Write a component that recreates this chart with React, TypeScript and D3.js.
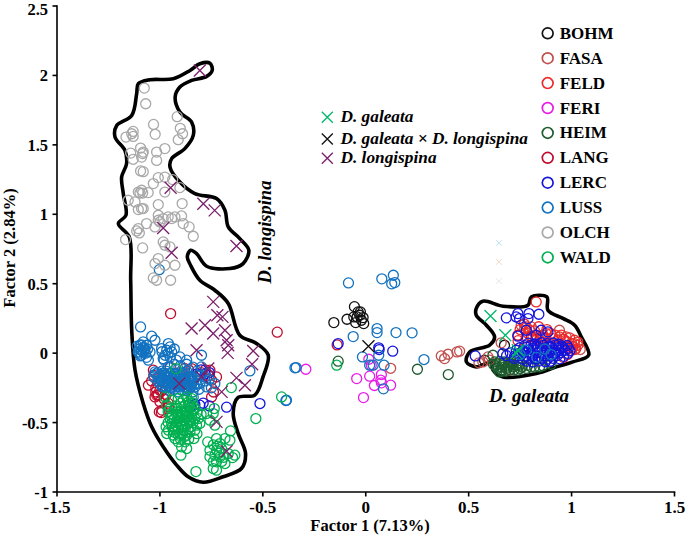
import React from "react";
import * as d3 from "d3";

type P = [number, number];

const BOHM: P[] = [[-0.055,0.335],[-0.155,0.22],[-0.091,0.244],[-0.058,0.261],[-0.037,0.297],[-0.026,0.297],[-0.029,0.273],[-0.042,0.261],[-0.013,0.256],[-0.049,0.22],[-0.01,0.213],[-0.021,0.237],[0.577,-0.051],[0.674,0.057]];
const FASA: P[] = [[0.367,-0.02],[0.4,-0.008],[0.383,-0.039],[0.443,0.009],[0.121,-0.109],[0.456,0.014],[0.569,-0.063],[0.594,-0.027],[0.658,0.074],[0.941,0.165],[0.974,0.117],[1.014,0.069],[1.042,0.026],[1.014,0.026],[0.772,0.177],[0.755,0.201],[0.804,0.189],[0.861,0.117],[0.699,-0.123],[0.6,-0.05],[0.55,-0.07]];
const FELD: P[] = [[0.828,0.369],[0.78,0.189],[0.796,0.165],[0.941,0.117],[0.909,0.105],[0.877,0.141],[0.861,0.081],[0.982,0.045],[1.006,0.045],[0.812,0.117],[1.014,0.093],[0.941,0.057],[0.893,0.069],[1.03,0.057],[0.844,0.093],[0.974,0.081],[-1.016,-0.303],[0.75,0.17],[0.77,0.21],[0.79,0.14],[0.82,0.16],[0.84,0.19],[0.86,0.13],[0.88,0.17],[0.9,0.14],[0.92,0.13],[0.95,0.13],[0.97,0.09],[0.99,0.11],[1.0,0.07],[1.02,0.03],[1.03,0.08],[0.96,0.1],[0.93,0.09],[0.87,0.11],[0.83,0.1],[0.78,0.11],[0.74,0.09],[1.0,0.02],[0.98,-0.01],[0.96,-0.03]];
const FERI: P[] = [[-0.291,-0.116],[0.015,-0.044],[0.027,-0.087],[-0.044,-0.183],[0.019,-0.166],[0.076,-0.154],[0.073,-0.195],[0.076,-0.214],[0.042,-0.233],[0.121,-0.231],[-0.011,-0.32]];
const HEIM: P[] = [[0.618,-0.015],[0.65,-0.075],[0.642,-0.099],[0.666,-0.087],[0.658,-0.123],[0.691,-0.087],[0.683,-0.111],[0.707,-0.063],[0.715,-0.099],[0.739,-0.123],[0.747,-0.087],[0.788,-0.087],[0.804,-0.099],[0.844,-0.099],[0.893,-0.063],[0.65,-0.135],[0.626,-0.063],[0.674,-0.063],[-0.134,-0.058],[0.251,-0.116],[0.401,-0.154],[0.63,-0.09],[0.64,-0.11],[0.66,-0.1],[0.67,-0.07],[0.68,-0.13],[0.69,-0.1],[0.7,-0.12],[0.71,-0.08],[0.72,-0.12],[0.73,-0.09],[0.75,-0.11],[0.76,-0.1],[0.78,-0.11],[0.82,-0.1],[0.86,-0.09],[0.65,-0.06],[0.62,-0.08],[0.66,-0.13],[0.9,-0.08],[0.7,-0.07],[0.74,-0.07]];
const LANG: P[] = [[-0.948,0.285],[-0.43,0.151],[-1.056,-0.231],[-1.024,-0.315],[-0.993,-0.428],[-1.003,-0.423],[-1.032,-0.123],[-1.008,-0.303],[-0.749,-0.315],[-0.725,-0.171],[-0.757,-0.123],[-0.846,-0.111],[-0.959,-0.387],[-1.0,-0.267],[-0.749,-0.195],[-0.139,0.059],[0.804,0.117],[0.739,0.129],[-1.03,-0.16],[-1.04,-0.2],[-1.02,-0.25],[-1.01,-0.3],[-1.0,-0.35],[-0.98,-0.33],[-0.97,-0.3],[-0.99,-0.41],[-0.96,-0.36],[-1.02,-0.28],[-0.99,-0.27],[-0.8,-0.14],[-0.78,-0.12],[-0.76,-0.16],[-0.74,-0.28],[-0.86,-0.12],[-0.88,-0.11],[-0.95,-0.1]];
const LERC: P[] = [[0.063,0.038],[0.065,0.026],[0.131,0.014],[-0.134,0.069],[-0.676,-0.389],[-0.514,-0.363],[-0.806,-0.375],[-0.806,-0.159],[-0.8,-0.12],[-0.78,-0.15],[-0.76,-0.14],[-0.82,-0.15],[-0.79,-0.36],[-0.76,-0.38],[-0.83,-0.37],[-0.85,-0.39],[0.532,-0.02],[0.683,0.254],[0.739,0.285],[0.731,0.261],[0.747,0.249],[0.793,0.285],[0.788,0.249],[0.841,0.28],[0.78,0.165],[0.852,0.165],[0.739,0.122],[0.828,0.129],[0.666,-0.003],[0.885,0.153],
[0.79,0.072],[0.822,0.066],[0.853,0.075],[0.881,0.068],[0.912,0.073],[0.938,0.064],
[0.772,0.054],[0.803,0.058],[0.831,0.049],[0.862,0.056],[0.889,0.051],[0.923,0.058],[0.951,0.05],[0.978,0.055],
[0.748,0.039],[0.783,0.043],[0.812,0.035],[0.838,0.041],[0.871,0.036],[0.902,0.043],[0.932,0.038],[0.958,0.042],[0.985,0.036],
[0.731,0.021],[0.762,0.017],[0.791,0.024],[0.823,0.018],[0.851,0.022],[0.879,0.016],[0.913,0.023],[0.941,0.018],[0.969,0.021],[0.992,0.017],
[0.702,0.002],[0.742,-0.003],[0.768,0.004],[0.802,-0.002],[0.834,0.003],[0.861,-0.004],[0.893,0.002],[0.921,-0.003],[0.948,0.004],[0.981,-0.002],
[0.684,-0.018],[0.723,-0.022],[0.753,-0.017],[0.781,-0.023],[0.813,-0.018],[0.842,-0.024],[0.873,-0.018],[0.904,-0.021],[0.931,-0.017],[0.962,-0.023],
[0.722,-0.038],[0.761,-0.043],[0.792,-0.037],[0.821,-0.042],[0.853,-0.038],[0.882,-0.043],[0.909,-0.037],[0.943,-0.041],
[0.783,-0.058],[0.812,-0.063],[0.841,-0.057],[0.872,-0.062],[0.898,-0.058]];
const LUSS: P[] = [[-1.094,0.189],[-1.04,0.122],[-1.024,0.093],[-1.081,0.081],[-1.097,0.057],[-1.105,0.009],[-1.073,0.033],[-1.048,0.009],[-1.089,-0.015],[-1.056,-0.051],[-0.959,0.069],[-0.992,0.033],[-0.943,0.009],[-0.975,-0.015],[-0.984,-0.039],[-0.903,-0.027],[-0.87,-0.051],[-0.798,-0.015],[-1.024,-0.135],[-1.0,-0.159],[-0.967,-0.171],[-0.992,-0.195],[-0.951,-0.195],[-0.984,-0.243],[-0.943,-0.243],[-0.903,-0.159],[-0.886,-0.195],[-0.854,-0.183],[-0.862,-0.231],[-0.83,-0.243],[-0.895,-0.267],[-0.838,-0.315],[-0.798,-0.099],[-0.781,-0.171],[-0.806,-0.219],[-0.773,-0.243],[-0.733,-0.219],[-0.563,-0.128],[-0.344,-0.106],[-0.385,-0.339],[-1.008,-0.171],[-0.975,-0.219],[-0.927,-0.183],[-0.911,-0.219],[-0.878,-0.243],[-0.846,-0.219],[-0.87,-0.267],[-1.0,-0.219],[-0.959,-0.147],[-0.927,-0.147],[-1.064,0.057],[-1.081,0.009],[-0.951,0.045],[-0.967,0.021],[-0.084,0.506],[0.078,0.535],[0.134,0.561],[0.126,0.499],[0.141,0.508],[0.055,0.177],[0.055,0.148],[0.147,0.148],[0.225,0.146],[-0.061,0.119],[-0.016,-0.027],[0.283,-0.046],[-0.338,-0.104],[0.019,-0.087],[0.036,-0.087],[0.089,-0.087],[0.086,-0.257],[-0.388,-0.341],[0.063,-0.015],[-1.003,0.601],
[-1.11,0.05],[-1.1,0.03],[-1.09,0.06],[-1.08,0.04],[-1.1,0.0],[-1.09,0.02],[-1.07,0.0],[-1.06,0.03],[-1.075,0.02],[-1.095,-0.02],[-1.065,-0.03],[-1.02,-0.15],[-1.03,-0.17],[-1.01,-0.14],[-1.0,-0.19],[-0.99,-0.13],[-0.98,-0.16],[-0.97,-0.13],[-0.96,-0.17],[-0.95,-0.15],[-0.98,-0.21],[-0.96,-0.22],[-0.94,-0.18],[-0.93,-0.21],[-0.92,-0.17],[-0.91,-0.24],[-0.9,-0.2],[-0.89,-0.22],[-0.88,-0.18],[-0.87,-0.21],[-0.86,-0.17],[-0.85,-0.24],[-0.84,-0.2],[-0.83,-0.18],[-0.82,-0.22],[-1.01,-0.2],[-0.99,-0.24],[-0.97,-0.25],[-0.95,-0.27],[-0.93,-0.26],[-0.88,-0.27],[-0.86,-0.26],[-0.84,-0.28],[-0.81,-0.26],[-0.91,-0.28],[-0.93,-0.15],[-0.9,-0.14],[-0.87,-0.13],[-0.96,-0.1],[-0.93,-0.08],[-0.9,-0.09],[-0.87,-0.08],[-0.98,-0.05],[-0.95,-0.03],[-0.92,-0.05],[-0.99,0.01],[-0.96,0.0],[-0.93,0.03],[-0.84,-0.1],[-0.82,-0.13],[-0.8,-0.16],[-0.78,-0.2],[-0.76,-0.19],[-0.75,-0.25],[0.75,-0.01],[0.78,0.02],[0.83,-0.03],[0.87,0.03],[0.9,-0.01],
[-0.985,-0.18],[-0.972,-0.155],[-0.965,-0.2],[-0.955,-0.235],[-0.945,-0.165],[-0.935,-0.19],[-0.925,-0.225],[-0.918,-0.15],[-0.905,-0.185],[-0.895,-0.235],[-0.885,-0.16],[-0.875,-0.19],[-0.865,-0.245],[-0.855,-0.205],[-0.845,-0.17],[-0.835,-0.23],[-0.97,-0.24],[-0.94,-0.215],[-0.91,-0.205],[-0.88,-0.225],[-0.85,-0.19],[-0.98,-0.145],[-0.89,-0.145],[-0.95,-0.25],[-0.92,-0.24]];
const OLCH: P[] = [[-1.076,1.909],[-1.069,1.796],[-0.916,1.703],[-1.031,1.647],[-1.023,1.576],[-0.901,1.619],[-0.89,1.58],[-0.911,1.537],[-1.13,1.597],[-1.137,1.58],[-1.165,1.556],[-1.13,1.561],[-0.976,1.473],[-1.016,1.448],[-1.016,1.388],[-1.094,1.477],[-1.142,1.441],[-1.13,1.396],[-1.084,1.437],[-1.089,1.412],[-1.081,1.448],[-1.094,1.312],[-1.081,1.307],[-0.976,1.268],[-1.008,1.264],[-1.032,1.221],[-0.938,1.25],[-0.976,1.16],[-0.903,1.192],[-1.089,1.173],[-1.097,1.153],[-1.084,1.153],[-1.105,1.16],[-1.057,1.156],[-1.154,1.101],[-1.121,1.089],[-1.089,1.041],[-1.105,1.034],[-1.008,1.07],[-0.892,1.077],[-1.081,1.041],[-1.008,0.993],[-0.895,0.988],[-0.96,0.981],[-0.984,0.969],[-1.008,0.957],[-0.943,0.969],[-0.927,0.981],[-1.065,0.933],[-1.0,0.945],[-1.105,0.897],[-1.1,0.866],[-1.113,0.88],[-1.024,0.909],[-0.887,0.933],[-0.858,0.909],[-0.838,0.842],[-1.167,0.818],[-1.084,0.758],[-0.984,0.801],[-0.976,0.777],[-0.951,0.765],[-1.008,0.681],[-0.927,0.633],[-0.976,0.633],[-1.024,0.645],[-1.032,0.542],[-0.948,0.525],[-1.016,0.525]];
const WALD: P[] = [[-0.141,-0.087],[-0.922,-0.111],[-0.653,-0.248],[-0.409,-0.315],[-0.534,-0.471],[-0.657,-0.56],[-0.736,-0.399],[-0.741,-0.435],[-0.773,-0.435],[-0.757,-0.483],[-0.733,-0.519],[-0.825,-0.853],[-0.898,-0.735],[-0.768,-0.639],[-0.725,-0.615],[-0.684,-0.615],[-0.66,-0.627],[-0.708,-0.651],[-0.757,-0.699],[-0.725,-0.699],[-0.733,-0.735],[-0.757,-0.747],[-0.708,-0.747],[-0.668,-0.723],[-0.636,-0.735],[-0.684,-0.795],[-0.741,-0.831],[-0.725,-0.843],[-0.647,-0.752],[-0.725,-0.783],[-0.967,-0.375],[-0.943,-0.339],[-0.911,-0.327],[-0.87,-0.315],[-0.846,-0.327],[-0.927,-0.399],[-0.895,-0.387],[-0.862,-0.375],[-0.83,-0.399],[-0.943,-0.459],[-0.911,-0.447],[-0.878,-0.435],[-0.846,-0.447],[-0.814,-0.471],[-0.943,-0.507],[-0.919,-0.495],[-0.886,-0.483],[-0.854,-0.495],[-0.822,-0.519],[-0.959,-0.555],[-0.927,-0.543],[-0.895,-0.531],[-0.862,-0.543],[-0.83,-0.555],[-0.967,-0.579],[-0.935,-0.591],[-0.903,-0.579],[-0.87,-0.591],[-0.911,-0.639],[-0.878,-0.639],[-0.835,-0.615],[-0.895,-0.675],[-0.87,-0.687],[-0.927,-0.615],[-0.903,-0.507],[-0.87,-0.423],[-0.919,-0.423],[-0.846,-0.387],[-0.806,-0.507],[-0.951,-0.399],[-0.886,-0.339],[-0.854,-0.363],[-0.903,-0.459],[-0.862,-0.483],[-0.935,-0.555],[-0.886,-0.555],[-0.854,-0.567],[-0.975,-0.315],
[-0.96,-0.42],[-0.94,-0.44],[-0.93,-0.47],[-0.92,-0.44],[-0.91,-0.47],[-0.9,-0.42],[-0.89,-0.45],[-0.88,-0.48],[-0.87,-0.46],[-0.86,-0.45],[-0.85,-0.48],[-0.84,-0.42],[-0.96,-0.5],[-0.94,-0.53],[-0.92,-0.52],[-0.91,-0.54],[-0.89,-0.51],[-0.88,-0.53],[-0.87,-0.51],[-0.85,-0.53],[-0.84,-0.5],[-0.83,-0.47],[-0.93,-0.57],[-0.91,-0.59],[-0.89,-0.58],[-0.88,-0.6],[-0.9,-0.62],[-0.86,-0.62],[-0.92,-0.38],[-0.9,-0.36],[-0.88,-0.38],[-0.86,-0.35],[-0.84,-0.36],[-0.82,-0.43],[-0.8,-0.44],[-0.95,-0.47],[-0.97,-0.53],[-0.82,-0.58],[-0.89,-0.43],[-0.87,-0.41],[-0.72,-0.67],[-0.7,-0.69],[-0.74,-0.66],[-0.71,-0.72],[-0.69,-0.75],[-0.74,-0.78],[-0.7,-0.78]];

const populations = ["BOHM","FASA","FELD","FERI","HEIM","LANG","LERC","LUSS","OLCH","WALD"];
const populationValues = [BOHM,FASA,FELD,FERI,HEIM,LANG,LERC,LUSS,OLCH,WALD];
const populationColors = ["#111111","#c0504d","#ee2a2a","#e81ee8","#1d5c2e","#c00d2f","#1414dc","#1272c0","#a8a8a8","#00b050"];

const galeataCross: P[] = [[0.606,0.268],[0.678,0.129],[0.739,0.021],[0.731,0.0]];
const hybridCross: P[] = [[0.013,0.05]];
const longispinaCross: P[] = [[-0.806,2.036],[-0.948,1.191],[-0.789,1.076],[-0.734,1.028],[-0.628,0.771],[-0.984,0.901],[-0.943,0.723],[-0.741,0.369],[-0.721,0.273],[-0.696,0.261],[-0.846,0.177],[-0.781,0.201],[-0.741,0.141],[-0.684,0.165],[-0.676,0.093],[-0.668,0.057],[-0.671,0.002],[-0.822,0.021],[-0.547,0.016],[-0.552,-0.08],[-0.628,-0.178],[-0.587,-0.231],[-0.7,-0.279],[-0.765,-0.111],[-0.797,-0.171],[-0.906,-0.219],[-0.725,-0.495],[-0.676,-0.706]];
const faintCross: P[] = [[0.647,0.794],[0.647,0.657],[0.647,0.518]];
const faintColors = ["#bfe3f2","#f8d8c8","#e8e8e8"];

const crossNames = ["D. galeata","D. galeata × D. longispina","D. longispina"];
const crossColors = ["#00b86b","#111111","#7b1f6a"];

const longispinaOutline: P[] = [[-0.806,2.084],[-0.757,2.088],[-0.746,2.036],[-0.773,1.993],[-0.846,1.964],[-0.903,1.916],[-0.926,1.844],[-0.903,1.736],[-0.846,1.664],[-0.838,1.568],[-0.879,1.473],[-0.943,1.401],[-0.951,1.34],[-0.903,1.232],[-0.83,1.149],[-0.725,1.113],[-0.684,1.029],[-0.668,0.909],[-0.612,0.825],[-0.568,0.741],[-0.596,0.645],[-0.66,0.609],[-0.773,0.626],[-0.822,0.717],[-0.851,0.741],[-0.867,0.693],[-0.851,0.633],[-0.806,0.525],[-0.733,0.453],[-0.668,0.358],[-0.612,0.129],[-0.531,0.07],[-0.474,-0.014],[-0.499,-0.171],[-0.539,-0.302],[-0.62,-0.319],[-0.644,-0.434],[-0.62,-0.578],[-0.584,-0.722],[-0.603,-0.829],[-0.693,-0.89],[-0.79,-0.93],[-0.863,-0.89],[-0.919,-0.806],[-0.984,-0.674],[-1.04,-0.53],[-1.081,-0.362],[-1.121,-0.122],[-1.137,0.165],[-1.142,0.525],[-1.149,0.837],[-1.202,0.933],[-1.165,0.993],[-1.178,1.149],[-1.186,1.268],[-1.162,1.365],[-1.17,1.46],[-1.218,1.556],[-1.21,1.64],[-1.137,1.712],[-1.113,1.868],[-1.105,1.94],[-1.049,1.969],[-0.935,1.976],[-0.854,2.036]];
const galeataOutline: P[] = [[0.537,0.322],[0.569,0.374],[0.667,0.338],[0.788,0.345],[0.804,0.405],[0.88,0.405],[0.885,0.309],[0.958,0.25],[1.015,0.201],[1.047,0.117],[1.083,-0.014],[1.006,-0.063],[0.926,-0.099],[0.829,-0.146],[0.667,-0.171],[0.618,-0.122],[0.61,-0.063],[0.537,-0.099],[0.489,-0.063],[0.505,0.009],[0.602,0.058],[0.626,0.117],[0.586,0.201],[0.537,0.273]];

const xTicks = [-1.5,-1,-0.5,0,0.5,1,1.5];
const yTicks = [-1,-0.5,0,0.5,1,1.5,2,2.5];

const W = 685, H = 538;
const x = d3.scaleLinear().domain([-1.5,1.5]).range([57,674.5]);
const y = d3.scaleLinear().domain([-1,2.5]).range([492,6]);
const outline = d3.line<P>().x(d=>x(d[0])).y(d=>y(d[1])).curve(d3.curveCatmullRomClosed.alpha(0.5));
const serif = "'Liberation Serif', serif";

const Cross = ({cx,cy,s,color,w=1.3}:{cx:number;cy:number;s:number;color:string;w?:number}) => (
  <path d={`M${cx-s},${cy-s}L${cx+s},${cy+s}M${cx-s},${cy+s}L${cx+s},${cy-s}`} stroke={color} strokeWidth={w} fill="none"/>
);

export default function App(){
  return (
    <svg width={W} height={H} style={{position:"fixed",left:0,top:0,background:"#fff",fontFamily:serif}}>
      <path d={outline(longispinaOutline)!} fill="none" stroke="#000" strokeWidth={3.6} strokeLinejoin="round"/>
      <path d={outline(galeataOutline)!} fill="none" stroke="#000" strokeWidth={3.6} strokeLinejoin="round"/>

      {populationValues.map((pts,i)=>(
        <g key={populations[i]}>
          {pts.map((p,j)=>(
            <circle key={j} cx={x(p[0])} cy={y(p[1])} r={5} fill="none" stroke={populationColors[i]} strokeWidth={1.3}/>
          ))}
        </g>
      ))}

      {galeataCross.map((p,i)=><Cross key={i} cx={x(p[0])} cy={y(p[1])} s={6} color={crossColors[0]}/>)}
      {hybridCross.map((p,i)=><Cross key={i} cx={x(p[0])} cy={y(p[1])} s={6} color={crossColors[1]}/>)}
      {longispinaCross.map((p,i)=><Cross key={i} cx={x(p[0])} cy={y(p[1])} s={6} color={crossColors[2]}/>)}
      {faintCross.map((p,i)=><Cross key={i} cx={x(p[0])} cy={y(p[1])} s={3} color={faintColors[i]} w={1}/>)}

      <g stroke="#000" strokeWidth={1.6} fill="none">
        <line x1={x(-1.5)-0.8} x2={x(1.5)+0.8} y1={y(-1)} y2={y(-1)}/>
        <line x1={x(-1.5)} x2={x(-1.5)} y1={y(-1)} y2={y(2.5)-0.8}/>
        {xTicks.map(t=><line key={t} x1={x(t)} x2={x(t)} y1={y(-1)} y2={y(-1)+4.5}/>)}
        {yTicks.map(t=><line key={t} x1={x(-1.5)-4.5} x2={x(-1.5)} y1={y(t)} y2={y(t)}/>)}
      </g>
      <g fontSize={17} fontWeight={700} fill="#000">
        {xTicks.map(t=><text key={t} x={x(t)} y={513} textAnchor="middle">{t}</text>)}
      </g>
      <g fontSize={16.5} fontWeight={700} fill="#000">
        {yTicks.map(t=><text key={t} x={48} y={Math.max(y(t)+6,14.9)} textAnchor="end">{t}</text>)}
        <text x={370} y={531} textAnchor="middle">Factor 1 (7.13%)</text>
        <text transform="translate(15,248) rotate(-90)" textAnchor="middle">Factor 2 (2.84%)</text>
      </g>

      {populations.map((n,i)=>{
        const cy = 33.3+i*24.9;
        return <g key={n}>
          <circle cx={547.7} cy={cy} r={5.4} fill="none" stroke={populationColors[i]} strokeWidth={1.7}/>
          <text x={559.7} y={cy+5.5} fontSize={17} fontWeight={700} fill="#000">{n}</text>
        </g>;
      })}

      {crossNames.map((n,i)=>{
        const cy=[117.3,139,158.3][i];
        return <g key={n}>
          <Cross cx={327.3} cy={cy} s={5.5} color={crossColors[i]}/>
          <text x={340.5} y={cy+5} fontSize={17.3} fontWeight={700} fontStyle="italic" fill="#000">{n}</text>
        </g>;
      })}

      <text transform="translate(271,232) rotate(-90)" textAnchor="middle" fontSize={18.5} fontWeight={700} fontStyle="italic">D. longispina</text>
      <text x={529} y={402} textAnchor="middle" fontSize={19} fontWeight={700} fontStyle="italic">D. galeata</text>
    </svg>
  );
}
